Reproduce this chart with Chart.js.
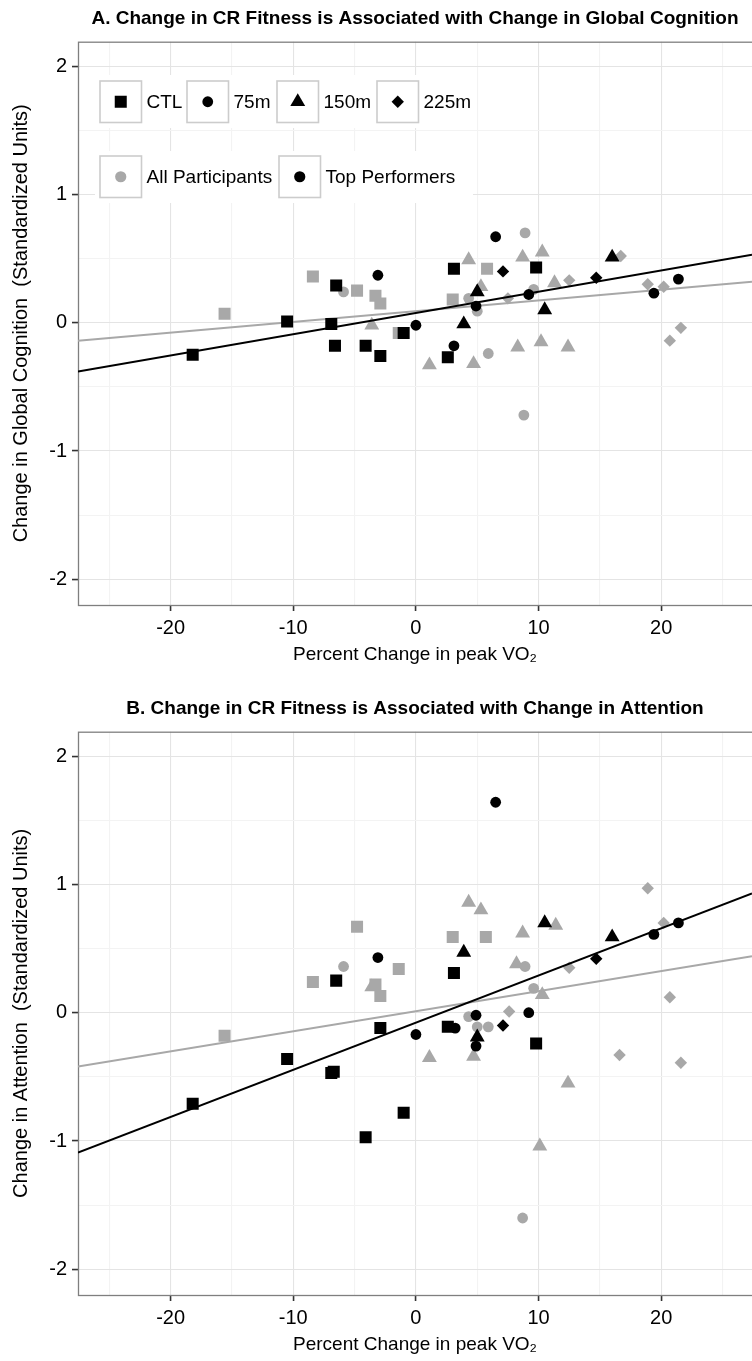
<!DOCTYPE html>
<html><head><meta charset="utf-8">
<script src="https://cdn.jsdelivr.net/npm/chart.js@4.4.0/dist/chart.umd.min.js"></script>
<style>
html,body{margin:0;padding:0;background:#fff;overflow:hidden;width:752px;height:1361px;}
.wrap{position:absolute;left:0;width:752px;height:690px;}
#wa{top:0}
#wb{top:690px}
</style></head><body>
<div class="wrap" id="wa"><canvas id="ca" width="752" height="690"></canvas></div>
<div class="wrap" id="wb"><canvas id="cb" width="752" height="690"></canvas></div>
<script>
// ---------- tick values / labels ----------
const xMajorTicks = [-20, -10, 0, 10, 20];
const xMinorTicks = [-25, -15, -5, 5, 15, 25];
const yMajorTicks = [-2, -1, 0, 1, 2];
const yMinorTicks = [-1.5, -0.5, 0.5, 1.5];
const xRange = [-27.55, 27.4];
const yRange = [-2.2, 2.19];
const groupNames = ['CTL', '75m', '150m', '225m'];
const cohortNames = ['All Participants', 'Top Performers'];
const xAxisTitle = 'Percent Change in peak VO\u2082';

// ---------- Panel A: Global Cognition ----------
const titleA = 'A. Change in CR Fitness is Associated with Change in Global Cognition';
const yTitleA = 'Change in Global Cognition  (Standardized Units)';
const cogAllCTL = [[-15.6,0.07],[-8.4,0.36],[-4.8,0.25],[-3.3,0.21],[-2.9,0.15],[-1.4,-0.08],[3.0,0.18],[5.8,0.42]];
const cogAll75  = [[-5.9,0.24],[4.3,0.19],[5.0,0.09],[5.9,-0.24],[8.8,-0.72],[8.9,0.70],[9.6,0.26]];
const cogAll150 = [[-3.6,-0.02],[1.1,-0.33],[4.3,0.49],[4.7,-0.32],[5.3,0.28],[8.3,-0.19],[8.7,0.51],[10.2,-0.15],[10.3,0.55],[11.3,0.31],[12.4,-0.19]];
const cogAll225 = [[7.5,0.19],[12.5,0.33],[16.7,0.52],[18.9,0.30],[20.2,0.28],[20.7,-0.14],[21.6,-0.04]];
const cogTopCTL = [[-18.2,-0.25],[-10.5,0.01],[-6.9,-0.01],[-6.6,-0.18],[-6.5,0.29],[-4.1,-0.18],[-2.9,-0.26],[-1.0,-0.08],[2.6,-0.27],[3.1,0.42],[9.8,0.43]];
const cogTop75  = [[-3.1,0.37],[0.0,-0.02],[3.1,-0.18],[4.9,0.13],[6.5,0.67],[9.2,0.22],[19.4,0.23],[21.4,0.34]];
const cogTop150 = [[3.9,-0.01],[5.0,0.24],[10.5,0.10],[16.0,0.51]];
const cogTop225 = [[7.1,0.40],[14.7,0.35]];
const cogFitAll = [[-27.55,-0.14],[27.4,0.32]];
const cogFitTop = [[-27.55,-0.38],[27.4,0.53]];

// ---------- Panel B: Attention ----------
const titleB = 'B. Change in CR Fitness is Associated with Change in Attention';
const yTitleB = 'Change in Attention  (Standardized Units)';
const attAllCTL = [[-15.6,-0.18],[-8.4,0.24],[-4.8,0.67],[-3.3,0.22],[-2.9,0.13],[-1.4,0.34],[3.0,0.59],[5.7,0.59]];
const attAll75  = [[-5.9,0.36],[4.3,-0.03],[5.0,-0.11],[5.9,-0.11],[8.7,-1.60],[8.9,0.36],[9.6,0.19]];
const attAll150 = [[-3.6,0.20],[1.1,-0.35],[4.3,0.86],[4.7,-0.34],[5.3,0.80],[8.2,0.38],[8.7,0.62],[10.1,-1.04],[10.3,0.14],[11.4,0.68],[12.4,-0.55]];
const attAll225 = [[7.6,0.01],[12.5,0.35],[16.6,-0.33],[18.9,0.97],[20.2,0.70],[20.7,0.12],[21.6,-0.39]];
const attTopCTL = [[-18.2,-0.71],[-10.5,-0.36],[-6.9,-0.47],[-6.7,-0.46],[-6.5,0.25],[-4.1,-0.97],[-2.9,-0.12],[-1.0,-0.78],[2.6,-0.11],[3.1,0.31],[9.8,-0.24]];
const attTop75  = [[-3.1,0.43],[0.0,-0.17],[3.2,-0.12],[4.9,-0.02],[4.9,-0.26],[6.5,1.64],[9.2,0.00],[19.4,0.61],[21.4,0.70]];
const attTop150 = [[3.9,0.47],[5.0,-0.19],[10.5,0.70],[16.0,0.59]];
const attTop225 = [[7.1,-0.10],[14.7,0.42]];
const attFitAll = [[-27.55,-0.42],[27.4,0.44]];
const attFitTop = [[-27.55,-1.09],[27.4,0.93]];

// ---------- styles ----------
const FONT = "'Liberation Sans', Arial, Helvetica, sans-serif";
const GRAY = '#a8a8a8';
const BLACK = '#000000';
const shapes = {
  'CTL': {style: 'rect', r: 8.5},
  '75m': {style: 'circle', r: 5.4},
  '150m': {style: 'triangle', r: 8.6},
  '225m': {style: 'rectRot', r: 6.2}
};
const toXY = arr => arr.map(p => ({x: p[0], y: p[1]}));

function buildDatasets(allSets, topSets, fitAll, fitTop) {
  const ds = [];
  ds.push({label: cohortNames[1] + ' fit', data: toXY(fitTop), showLine: true, borderColor: BLACK, borderWidth: 2, pointRadius: 0, fill: false});
  groupNames.forEach((g, i) => ds.push({label: cohortNames[1] + ' ' + g, data: toXY(topSets[i]), pointStyle: shapes[g].style, pointRadius: shapes[g].r, pointBorderWidth: 0, backgroundColor: BLACK, borderColor: BLACK}));
  ds.push({label: cohortNames[0] + ' fit', data: toXY(fitAll), showLine: true, borderColor: GRAY, borderWidth: 2, pointRadius: 0, fill: false});
  groupNames.forEach((g, i) => ds.push({label: cohortNames[0] + ' ' + g, data: toXY(allSets[i]), pointStyle: shapes[g].style, pointRadius: shapes[g].r, pointBorderWidth: 0, backgroundColor: GRAY, borderColor: GRAY}));
  return ds;
}

function isIn(list, v) { return list.some(t => Math.abs(t - v) < 1e-9); }

function buildScales(yTitle) {
  return {
    x: {
      type: 'linear', position: 'bottom', min: xRange[0], max: xRange[1],
      afterBuildTicks: s => { s.ticks = xMinorTicks.concat(xMajorTicks).sort((a, b) => a - b).map(v => ({value: v})); },
      afterFit: s => { s.height = 85; s.paddingLeft = 0; s.paddingRight = 0; },
      border: {display: false},
      grid: {
        color: c => (c.tick && isIn(xMajorTicks, c.tick.value)) ? '#e4e4e4' : '#f3f3f3',
        lineWidth: 1.1,
        tickColor: c => (c.tick && isIn(xMajorTicks, c.tick.value)) ? '#333333' : 'rgba(0,0,0,0)',
        tickLength: 6, tickWidth: 1.6, drawTicks: true
      },
      ticks: {autoSkip: false, maxRotation: 0, minRotation: 0, padding: 5, color: '#000', font: {family: FONT, size: 20},
        callback: v => isIn(xMajorTicks, v) ? String(v) : ''},
      title: {display: true, text: xAxisTitle, color: '#000', font: {family: FONT, size: 19}, padding: {top: 0, bottom: 23.6}}
    },
    y: {
      type: 'linear', position: 'left', min: yRange[0], max: yRange[1],
      afterBuildTicks: s => { s.ticks = yMinorTicks.concat(yMajorTicks).sort((a, b) => a - b).map(v => ({value: v})); },
      afterFit: s => { s.width = 78; s.paddingTop = 0; s.paddingBottom = 0; },
      border: {display: false},
      grid: {
        color: c => (c.tick && isIn(yMajorTicks, c.tick.value)) ? '#e4e4e4' : '#f3f3f3',
        lineWidth: 1.1,
        tickColor: c => (c.tick && isIn(yMajorTicks, c.tick.value)) ? '#333333' : 'rgba(0,0,0,0)',
        tickLength: 6, tickWidth: 1.6, drawTicks: true
      },
      ticks: {autoSkip: false, padding: 5, color: '#000', font: {family: FONT, size: 20},
        callback: v => isIn(yMajorTicks, v) ? String(v) : ''},
      title: {display: true, text: yTitle, color: '#000', font: {family: FONT, size: 20}, padding: {top: 9, bottom: 0}}
    }
  };
}

const panelBorder = {
  id: 'panelBorder',
  beforeDatasetsDraw(chart) {
    const {ctx, chartArea: a} = chart;
    ctx.save();
    ctx.strokeStyle = '#7f7f7f';
    ctx.lineWidth = 1.3;
    ctx.strokeRect(a.left + 0.5, a.top + 0.5, a.right - a.left + 2, a.bottom - a.top);
    ctx.restore();
  }
};

const insideLegend = {
  id: 'insideLegend',
  afterDatasetsDraw(chart) {
    const ctx = chart.ctx;
    const box = 41.5;
    ctx.save();
    ctx.fillStyle = '#ffffff';
    ctx.fillRect(95, 75, 378, 53);
    ctx.fillRect(95, 151, 378, 52);
    ctx.font = '19px ' + FONT;
    ctx.textBaseline = 'middle';
    ctx.textAlign = 'left';
    const drawKey = (bx, by, style, r, color, label) => {
      ctx.fillStyle = '#ffffff';
      ctx.fillRect(bx, by, box, box);
      ctx.strokeStyle = '#cccccc';
      ctx.lineWidth = 1.6;
      ctx.strokeRect(bx, by, box, box);
      ctx.fillStyle = color;
      Chart.helpers.drawPoint(ctx, {pointStyle: style, radius: r, rotation: 0, borderWidth: 0}, bx + box / 2, by + box / 2);
      ctx.fillStyle = '#000000';
      ctx.fillText(label, bx + box + 5, by + box / 2 + 1);
    };
    const row1X = [100, 187, 277, 377];
    groupNames.forEach((g, i) => drawKey(row1X[i], 81, shapes[g].style, shapes[g].r, BLACK, g));
    const row2X = [100, 279];
    drawKey(row2X[0], 156, 'circle', 5.6, GRAY, cohortNames[0]);
    drawKey(row2X[1], 156, 'circle', 5.6, BLACK, cohortNames[1]);
    ctx.restore();
  }
};

function makeChart(canvasId, title, yTitle, allSets, topSets, fitAll, fitTop, withLegend) {
  return new Chart(document.getElementById(canvasId), {
    type: 'scatter',
    data: {datasets: buildDatasets(allSets, topSets, fitAll, fitTop)},
    options: {
      responsive: false, animation: false, devicePixelRatio: 1,
      layout: {padding: 0, autoPadding: false},
      plugins: {
        legend: {display: false}, tooltip: {enabled: false},
        title: {display: true, text: title, fullSize: false, color: '#000', font: {family: FONT, size: 19, weight: 'bold'}, padding: {top: 7.3, bottom: 11.6}}
      },
      scales: buildScales(yTitle)
    },
    plugins: withLegend ? [panelBorder, insideLegend] : [panelBorder]
  });
}

makeChart('ca', titleA, yTitleA, [cogAllCTL, cogAll75, cogAll150, cogAll225], [cogTopCTL, cogTop75, cogTop150, cogTop225], cogFitAll, cogFitTop, true);
makeChart('cb', titleB, yTitleB, [attAllCTL, attAll75, attAll150, attAll225], [attTopCTL, attTop75, attTop150, attTop225], attFitAll, attFitTop, false);
</script>
</body></html>
